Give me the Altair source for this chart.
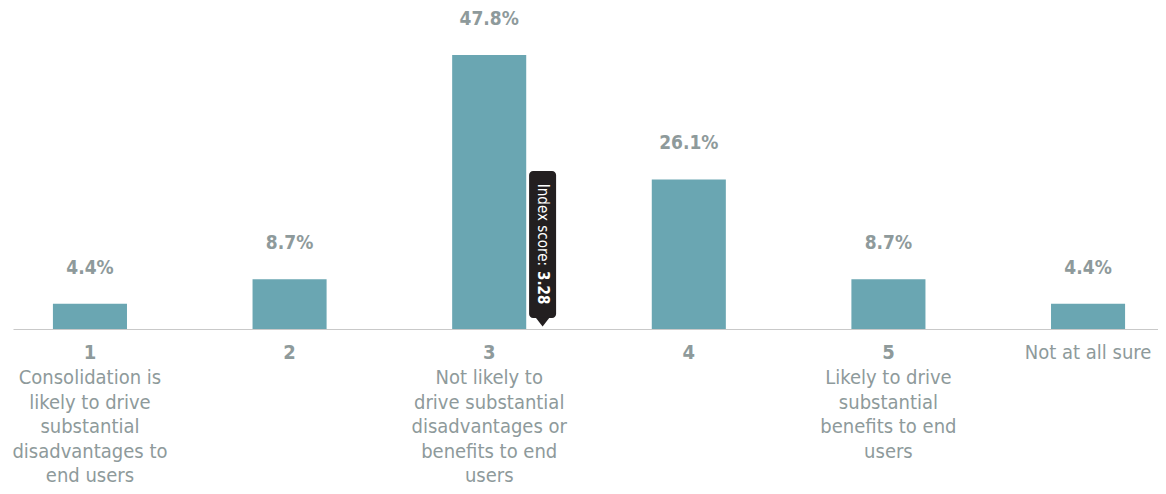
import altair as alt
import pandas as pd

# ---- data ----
categories = ["1", "2", "3", "4", "5", "Not at all sure"]
shares = [4.4, 8.7, 47.8, 26.1, 8.7, 4.4]
share_labels = ["4.4%", "8.7%", "47.8%", "26.1%", "8.7%", "4.4%"]
heads = ["1", "2", "3", "4", "5", "Not at all sure"]
head_bold = [True, True, True, True, True, False]
descriptions = [
    "Consolidation is\nlikely to drive\nsubstantial\ndisadvantages to\nend users",
    "",
    "Not likely to\ndrive substantial\ndisadvantages or\nbenefits to end\nusers",
    "",
    "Likely to drive\nsubstantial\nbenefits to end\nusers",
    "",
]
index_text = "Index score:"
index_value_label = "3.28"
index_value = 3.28

FONT = "Liberation Sans Narrow, DejaVu Sans Condensed, Roboto"
BAR = "#6aa6b2"
GRAY = "#8e9a9b"
DARK = "#231f20"
W, H = 1145, 321
RANGE_W = 1152

df = pd.DataFrame({
    "cat": categories,
    "share": shares,
    "label": share_labels,
    "head": heads,
    "bold": head_bold,
    "desc": descriptions,
})
idx = pd.DataFrame({"v": [index_value], "t1": [index_text], "t2": [index_value_label]})

x = alt.X("cat:N", sort=categories,
          scale=alt.Scale(paddingInner=0.629, paddingOuter=0.2, range=[0, RANGE_W]),
          axis=alt.Axis(title=None, labels=False, ticks=False, grid=False,
                        domainColor="#c9c9c9", domainWidth=1))
y = alt.Y("share:Q", scale=alt.Scale(domain=[0, 56]), axis=None)

base = alt.Chart(df)
bars = base.mark_bar(color=BAR).encode(x=x, y=y)
vals = base.mark_text(font=FONT, fontSize=19, fontWeight="bold", color=GRAY,
                      baseline="alphabetic", dy=-30).encode(x=x, y=y, text="label:N")
heads_bold = base.transform_filter("datum.bold").mark_text(
    font=FONT, fontSize=20, fontWeight="bold", color=GRAY, baseline="alphabetic", dy=30
).encode(x=x, y=alt.value(H), text="head:N")
heads_reg = base.transform_filter("!datum.bold").mark_text(
    font=FONT, fontSize=20, color=GRAY, baseline="alphabetic", dy=30
).encode(x=x, y=alt.value(H), text="head:N")
descs = base.mark_text(font=FONT, fontSize=20, color=GRAY, baseline="alphabetic",
                       dy=55, lineBreak="\n", lineHeight=24.6
).encode(x=x, y=alt.value(H), text="desc:N")
main = alt.layer(bars, vals, heads_bold, heads_reg, descs)

xq = alt.X("v:Q", scale=alt.Scale(domain=[0.614, 6.386], range=[0, RANGE_W]), axis=None)
ib = alt.Chart(idx)
box = ib.mark_rect(color=DARK, cornerRadius=4, xOffset=-16, x2Offset=11).encode(
    x=xq, x2="v:Q", y=alt.value(163), y2=alt.value(310))
tip = ib.mark_point(shape="M -1 0 L 1 0 L 0 1.3 Z", size=196, filled=True,
                    color=DARK, opacity=1, xOffset=-2.5).encode(x=xq, y=alt.value(309.5))
t1 = ib.mark_text(font=FONT, fontSize=15, color="white", angle=90, align="right",
                  baseline="middle", xOffset=-2.5).encode(x=xq, y=alt.value(258), text="t1:N")
t2 = ib.mark_text(font=FONT, fontSize=15, fontWeight="bold", color="white", angle=90,
                  align="left", baseline="middle", xOffset=-2.5).encode(x=xq, y=alt.value(263), text="t2:N")
marker = alt.layer(box, tip, t1, t2)

chart = alt.layer(main, marker).resolve_scale(
    x="independent"
).properties(
    width=W, height=H, autosize="none", background="white",
    padding={"left": 5, "top": 0, "right": 0, "bottom": 157},
).configure_view(strokeWidth=0, stroke="transparent")

chart.save("out.html", embed_options={"renderer": "svg", "actions": False})
